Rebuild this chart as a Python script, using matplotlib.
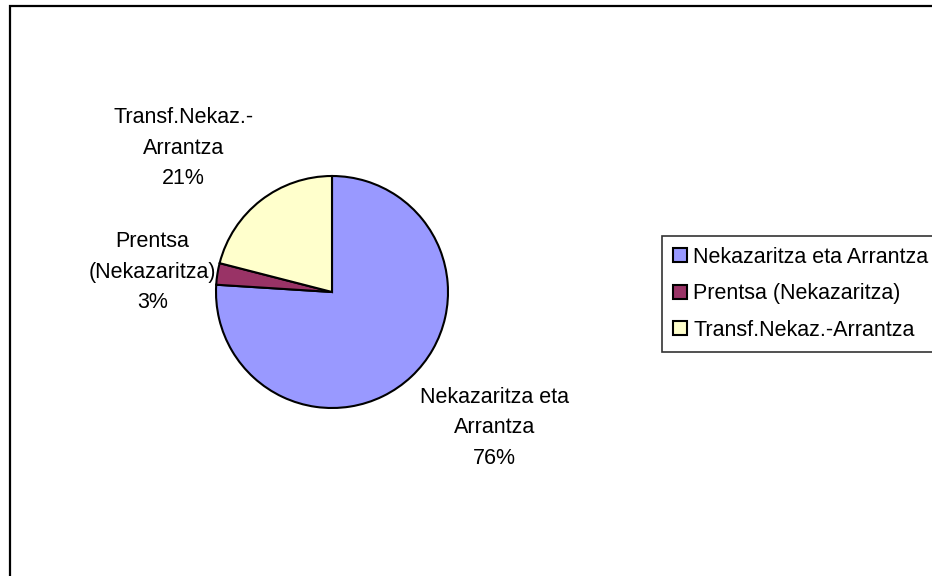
import matplotlib.pyplot as plt
from matplotlib.patches import Rectangle

plt.rcParams['font.family'] = ['Liberation Sans', 'DejaVu Sans']

names = ['Nekazaritza eta Arrantza', 'Prentsa (Nekazaritza)', 'Transf.Nekaz.-Arrantza']
label_text = ['Nekazaritza eta\nArrantza', 'Prentsa\n(Nekazaritza)', 'Transf.Nekaz.-\nArrantza']
shares = [76, 3, 21]
colors = ['#9999FF', '#993366', '#FFFFCC']

# where the data labels sit, in pie radius units
label_xy = [(1.40, -1.17), (-1.55, 0.17), (-1.28, 1.24)]

W, H = 932, 576
fig = plt.figure(figsize=(W / 100, H / 100), dpi=100)

# chart area border (only left/top visible, rest is cut off)
fig.patches.append(Rectangle((10 / W, -0.1), 1.2, 1 - 6 / H + 0.1, transform=fig.transFigure,
                             fill=False, edgecolor='black', linewidth=1.6))

ax = fig.add_axes([216 / W, 168 / H, 232 / W, 232 / H])
wedges, _ = ax.pie(shares, colors=colors, startangle=90, counterclock=False,
                   wedgeprops=dict(edgecolor='black', linewidth=1.5))
ax.set_xlim(-1, 1)
ax.set_ylim(-1, 1)
ax.set_aspect('auto')
ax.axis('off')

for txt, v, (lx, ly) in zip(label_text, shares, label_xy):
    ax.text(lx, ly, f'{txt}\n{v}%', ha='center', va='center', fontsize=15.5,
            linespacing=1.6, clip_on=False)

leg = fig.legend(wedges, names, loc='upper left', bbox_to_anchor=(662 / W, 1 - 236 / H),
                 fontsize=15.5, frameon=True, fancybox=False, edgecolor='black',
                 handlelength=0.65, handleheight=0.65, handletextpad=0.3,
                 labelspacing=0.72, borderpad=0.5, borderaxespad=0)
leg.get_frame().set_linewidth(1.2)

fig.savefig('out.png', dpi=100)
